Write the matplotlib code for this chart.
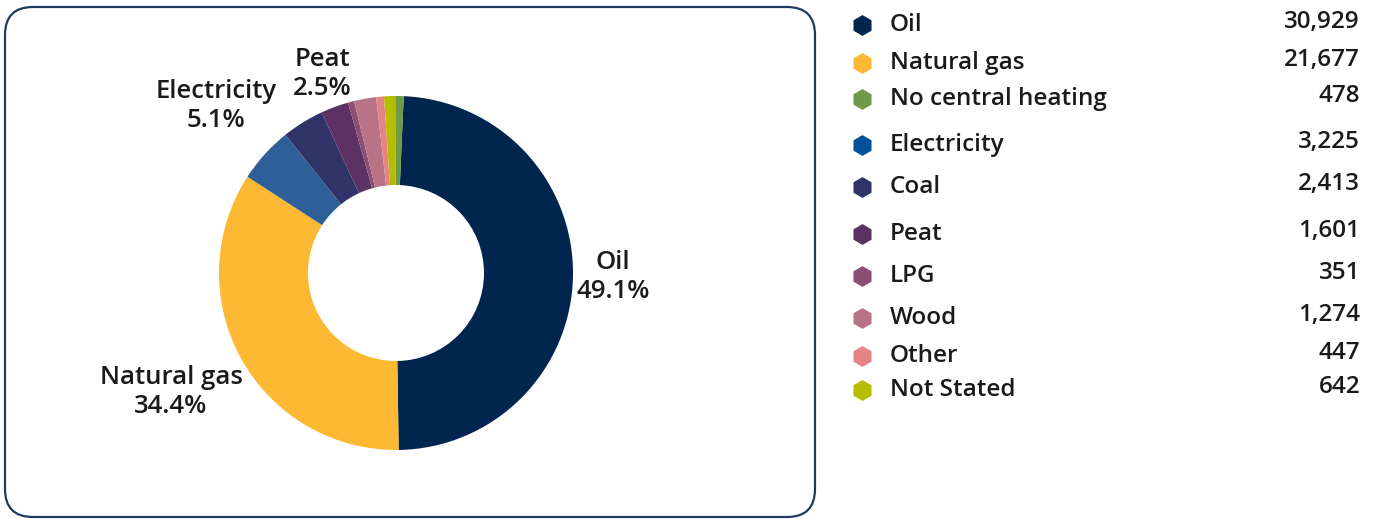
import matplotlib.pyplot as plt
from matplotlib.patches import FancyBboxPatch

plt.rcParams['font.family'] = ['Open Sans', 'DejaVu Sans']

# legend order (as in the table on the right)
categories = ["Oil", "Natural gas", "No central heating", "Electricity", "Coal",
              "Peat", "LPG", "Wood", "Other", "Not Stated"]
counts = [30929, 21677, 478, 3225, 2413, 1601, 351, 1274, 447, 642]
value_labels = ["30,929", "21,677", "478", "3,225", "2,413", "1,601", "351",
                "1,274", "447", "642"]
colors = {"Oil": "#00264f", "Natural gas": "#fdb933", "No central heating": "#6f9a4a",
          "Electricity": "#2f5f98", "Coal": "#2f3368", "Peat": "#5b3263",
          "LPG": "#8b4f73", "Wood": "#b87387", "Other": "#e48585",
          "Not Stated": "#b6bd00"}
legend_colors = dict(colors, Electricity="#00529b")

# order of wedges going clockwise from the top
pie_order = ["Oil", "Natural gas", "Electricity", "Coal", "Peat", "LPG", "Wood",
             "Other", "Not Stated", "No central heating"]
labelled = ["Oil", "Natural gas", "Electricity", "Peat"]

H = 519
fig = plt.figure(figsize=(13.74, 5.19), dpi=100)
ax = fig.add_axes([0, 0, 1, 1])

box = FancyBboxPatch((5, 2), 810, 510, boxstyle="round,pad=0,rounding_size=28",
                     fc='white', ec='#1f3a60', lw=1.6)
ax.add_patch(box)

cx, cy, r = 396, H - 273, 177
vals = [counts[categories.index(c)] for c in pie_order]
total = sum(counts)
ax.pie(vals, colors=[colors[c] for c in pie_order], startangle=87.5, counterclock=False,
       center=(cx, cy), radius=r, wedgeprops=dict(width=r - 88, linewidth=0),
       frame=True)
ax.set_xlim(0, 1374)
ax.set_ylim(0, H)
ax.set_aspect('equal')
ax.axis('off')

# label positions (pixels from left / top)
label_pos = {"Oil": (613, 277), "Natural gas": (171, 392),
             "Electricity": (216, 106), "Peat": (322, 74)}
for c in labelled:
    pct = counts[categories.index(c)] / total * 100
    x, y = label_pos[c]
    ax.text(x, H - y, f"{c}\n{pct:.1f}%", ha='center', va='center',
            fontsize=18.5, fontweight='semibold', color='#1a1a1a', linespacing=1.2)

row_y = [25, 63, 99, 145, 187, 234, 276, 318, 356, 390]
for c, v, y in zip(categories, value_labels, row_y):
    ax.plot(862, H - y, marker='h', ms=15, color=legend_colors[c], mec='none')
    ax.text(890, H - y, c, ha='left', va='center', fontsize=17.5,
            fontweight='semibold', color='#1a1a1a')
    ax.text(1360, H - y + 3, v, ha='right', va='center', fontsize=17.5,
            fontweight='semibold', color='#1a1a1a')

fig.savefig('out.png', dpi=100)
